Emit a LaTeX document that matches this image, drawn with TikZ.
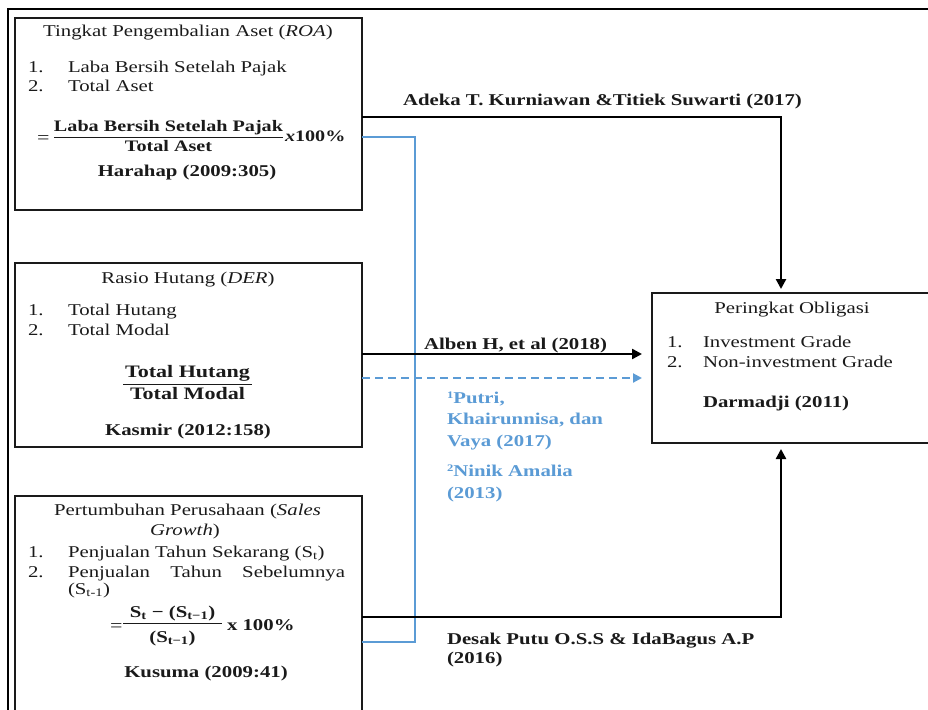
\documentclass[tikz,border=0pt]{standalone}
\usepackage{fontspec}
\setmainfont{Liberation Serif}[FakeStretch=1.26]
\usetikzlibrary{arrows.meta}
\definecolor{blueline}{HTML}{5B9BD5}
\definecolor{ink}{HTML}{1A1A1A}
\newcommand\myfs{\fontsize{16.5}{19.5}\selectfont}
\newcommand\myfsm{\fontsize{16}{19}\selectfont}
\newcommand\myfsl{\fontsize{17.5}{20}\selectfont}
\newcommand\mysup[1]{\raisebox{5pt}{\fontsize{10}{10}\selectfont #1}}
\tikzset{
  lbl/.style={anchor=base west, inner sep=0pt, outer sep=0pt, font=\myfs, text=ink},
  ctr/.style={anchor=base, inner sep=0pt, outer sep=0pt, font=\myfs, text=ink},
  boxnode/.style={draw=ink, line width=1.1pt, inner sep=0pt, outer sep=0pt},
  conn/.style={line width=2.4pt, draw=black},
  bconn/.style={line width=2pt, draw=blueline},
  fracbar/.style={line width=1pt, draw=ink},
  blbl/.style={anchor=base west, inner sep=0pt, outer sep=0pt, font=\myfs\bfseries, text=blueline},
  tipk/.style={-{Triangle[length=10pt,width=10pt]}},
  tipb/.style={-{Triangle[length=9pt,width=9pt]}}
}
\begin{document}
\begin{tikzpicture}[x=1pt,y=-1pt]
\useasboundingbox (0,0) rectangle (928,709);
% outer frame (cut off at right and bottom)
\coordinate (frBL) at (7.5,715);
\coordinate (frTL) at (7.5,9);
\coordinate (frTR) at (935,9);
\draw[line width=2pt, draw=black] (frBL) -- (frTL) -- (frTR);

% boxes
\node[boxnode, minimum width=347pt, minimum height=192pt] (roa) at (188.5,114) {};
\node[boxnode, minimum width=347pt, minimum height=184pt] (der) at (188.5,355) {};
\node[boxnode, minimum width=347pt, minimum height=230pt] (sg) at (188.5,611) {};
\node[boxnode, minimum width=290pt, minimum height=150pt] (po) at (797,368) {};

% ROA box texts
\node[ctr] (roaT) at (188,37) {Tingkat Pengembalian Aset (\textit{ROA})};
\node[lbl] (roa1n) at (28,72) {1.};
\node[lbl] (roa1t) at (68,72) {Laba Bersih Setelah Pajak};
\node[lbl] (roa2n) at (28,91) {2.};
\node[lbl] (roa2t) at (68,91) {Total Aset};
\node[lbl, font=\myfsl] (roaEq) at (37,143) {=};
\node[ctr, font=\myfsm\bfseries] (roaNum) at (168.5,131) {Laba Bersih Setelah Pajak};
\coordinate (roaBarL) at (54,137);
\coordinate (roaBarR) at (283,137);
\draw[fracbar] (roaBarL) -- (roaBarR);
\node[ctr, font=\myfsm\bfseries] (roaDen) at (168.5,151) {Total Aset};
\node[lbl, font=\myfsm\bfseries] (roaX) at (285,141) {\textit{x}100\%};
\node[ctr, font=\myfs\bfseries] (roaRef) at (187,176) {Harahap (2009:305)};

% DER box texts
\node[ctr] (derT) at (188,283) {Rasio Hutang (\textit{DER})};
\node[lbl] (der1n) at (28,315) {1.};
\node[lbl] (der1t) at (68,315) {Total Hutang};
\node[lbl] (der2n) at (28,335) {2.};
\node[lbl] (der2t) at (68,335) {Total Modal};
\node[ctr, font=\myfsl\bfseries] (derNum) at (187.5,377) {Total Hutang};
\coordinate (derBarL) at (123,384);
\coordinate (derBarR) at (252,384);
\draw[fracbar] (derBarL) -- (derBarR);
\node[ctr, font=\myfsl\bfseries] (derDen) at (187.5,399) {Total Modal};
\node[ctr, font=\myfs\bfseries] (derRef) at (188,435) {Kasmir (2012:158)};

% SG box texts
\node[ctr] (sgT1) at (187.5,515) {Pertumbuhan Perusahaan (\textit{Sales}};
\node[ctr] (sgT2) at (185,535) {\textit{Growth})};
\node[lbl] (sg1n) at (28,557) {1.};
\node[lbl] (sg1t) at (68,557) {Penjualan Tahun Sekarang (S\textsubscript{t})};
\node[lbl] (sg2n) at (28,577) {2.};
\node[lbl] (sg2t) at (68,577) {\makebox[277pt][s]{Penjualan Tahun Sebelumnya}};
\node[lbl] (sg2u) at (68,594) {(S\textsubscript{t-1})};
\node[lbl, font=\myfsl] (sgEq) at (110,631) {=};
\node[ctr, font=\myfs\bfseries] (sgNum) at (172.5,617) {S\textsubscript{t} − (S\textsubscript{t−1})};
\coordinate (sgBarL) at (123,623);
\coordinate (sgBarR) at (222,623);
\draw[fracbar] (sgBarL) -- (sgBarR);
\node[ctr, font=\myfs\bfseries] (sgDen) at (172.5,642) {(S\textsubscript{t−1})};
\node[lbl, font=\myfs\bfseries] (sgX) at (227,630) {x 100\%};
\node[ctr, font=\myfs\bfseries] (sgRef) at (206,677) {Kusuma (2009:41)};

% Peringkat Obligasi box texts
\node[ctr] (poT) at (792,313) {Peringkat Obligasi};
\node[lbl] (po1n) at (667,347) {1.};
\node[lbl] (po1t) at (703,347) {Investment Grade};
\node[lbl] (po2n) at (667,367) {2.};
\node[lbl] (po2t) at (703,367) {Non-investment Grade};
\node[lbl, font=\myfs\bfseries] (poRef) at (703,407) {Darmadji (2011)};

% connector labels
\node[lbl, font=\myfs\bfseries] (labA) at (403,105) {Adeka T. Kurniawan \&Titiek Suwarti (2017)};
\node[lbl, font=\myfs\bfseries] (labB) at (424,349) {Alben H, et al (2018)};
\node[blbl] (labC1) at (447,403) {\mysup{1}Putri,};
\node[blbl] (labC2) at (447,424) {Khairunnisa, dan};
\node[blbl] (labC3) at (447,446) {Vaya (2017)};
\node[blbl] (labD1) at (447,476) {\mysup{2}Ninik Amalia};
\node[blbl] (labD2) at (447,498) {(2013)};
\node[lbl, font=\myfs\bfseries] (labE1) at (447,644) {Desak Putu O.S.S \& IdaBagus A.P};
\node[lbl, font=\myfs\bfseries] (labE2) at (447,663) {(2016)};

% connectors
\coordinate (bjoin) at (415,642);
\draw[bconn] (roa.east |- 0,137) -| (bjoin) -- (sg.east |- bjoin);
\draw[bconn, dashed, dash pattern=on 8pt off 5pt, tipb, shorten >=10pt] (der.east |- 0,378) -- (po.west |- 0,378);
\draw[conn, tipk, shorten >=4pt] (roa.east |- 0,117) -| ([xshift=-16pt]po.north);
\draw[conn, tipk, shorten >=10pt] (der.east |- 0,354) -- (po.west |- 0,354);
\draw[conn, tipk, shorten >=6pt] (sg.east |- 0,617) -| ([xshift=-16pt]po.south);
\end{tikzpicture}
\end{document}
